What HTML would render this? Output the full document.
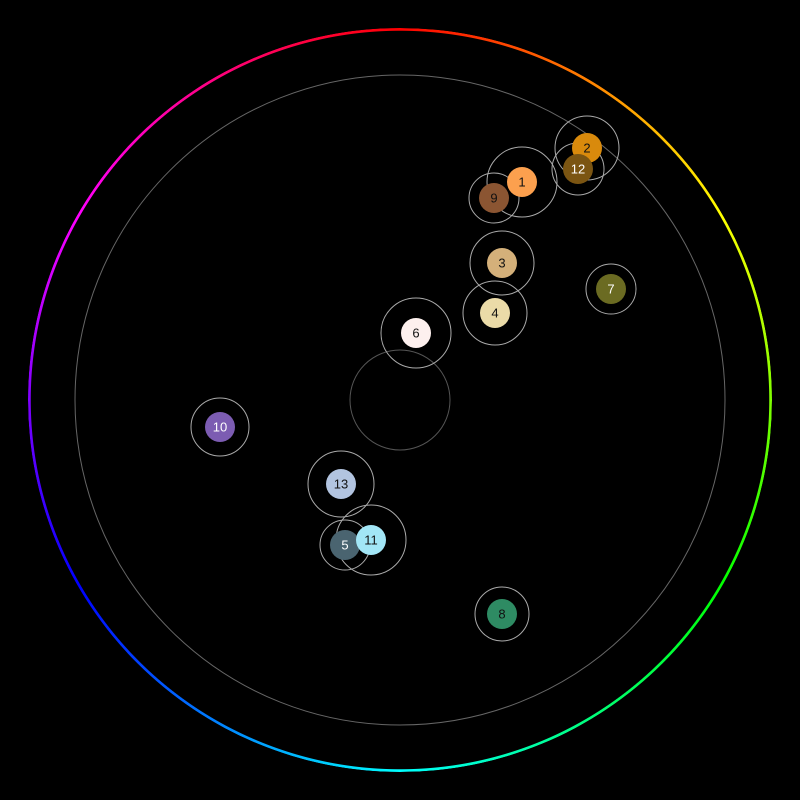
<!DOCTYPE html>
<html><head><style>
html,body{margin:0;padding:0;background:#000;width:800px;height:800px;overflow:hidden}
.ring{position:absolute;left:28px;top:28px;width:744px;height:744px;border-radius:50%;
background:conic-gradient(hsl(0,100%,50%),hsl(60,100%,50%),hsl(120,100%,50%),hsl(180,100%,50%),hsl(240,100%,50%),hsl(300,100%,50%),hsl(360,100%,50%));
-webkit-mask:radial-gradient(circle,transparent 369px,#000 369.5px,#000 372px,transparent 372.5px);
mask:radial-gradient(circle,transparent 369px,#000 369.5px,#000 372px,transparent 372.5px)}
svg{position:absolute;left:0;top:0}
text{font-family:"Liberation Sans",sans-serif;font-size:13px;text-anchor:middle;dominant-baseline:central}
</style></head><body>
<div class="ring"></div>
<svg width="800" height="800">
<circle cx="400" cy="400" r="325" fill="none" stroke="#666" stroke-width="1"/>
<circle cx="400" cy="400" r="50" fill="none" stroke="#555" stroke-width="1"/>
<g fill="none" stroke="#aaa" stroke-width="1">
<circle cx="522" cy="182" r="35"/><circle cx="587" cy="148" r="32"/><circle cx="578" cy="169" r="26"/>
<circle cx="494" cy="198" r="25"/><circle cx="502" cy="263" r="32"/><circle cx="495" cy="313" r="32"/>
<circle cx="416" cy="333" r="35"/><circle cx="611" cy="289" r="25"/><circle cx="220" cy="427" r="29"/>
<circle cx="341" cy="484" r="33"/><circle cx="345" cy="545" r="25"/><circle cx="371" cy="540" r="35"/>
<circle cx="502" cy="614" r="27"/>
</g>
<circle cx="522" cy="182" r="15" fill="#fca04e"/><text x="522" y="182" fill="#111">1</text>
<circle cx="587" cy="148" r="15" fill="#d98a0c"/><text x="587" y="148" fill="#111">2</text>
<circle cx="578" cy="169" r="15" fill="#7b5512"/><text x="578" y="169" fill="#fff">12</text>
<circle cx="494" cy="198" r="15" fill="#8b5532"/><text x="494" y="198" fill="#111">9</text>
<circle cx="502" cy="263" r="15" fill="#d4b07a"/><text x="502" y="263" fill="#111">3</text>
<circle cx="495" cy="313" r="15" fill="#ebdba8"/><text x="495" y="313" fill="#111">4</text>
<circle cx="416" cy="333" r="15" fill="#fdf0ee"/><text x="416" y="333" fill="#111">6</text>
<circle cx="611" cy="289" r="15" fill="#6b6b22"/><text x="611" y="289" fill="#fff">7</text>
<circle cx="220" cy="427" r="15" fill="#7c5cb2"/><text x="220" y="427" fill="#fff">10</text>
<circle cx="341" cy="484" r="15" fill="#b2c4e0"/><text x="341" y="484" fill="#111">13</text>
<circle cx="345" cy="545" r="15" fill="#4a6470"/><text x="345" y="545" fill="#fff">5</text>
<circle cx="371" cy="540" r="15" fill="#a2e6f6"/><text x="371" y="540" fill="#111">11</text>
<circle cx="502" cy="614" r="15" fill="#2e8b63"/><text x="502" y="614" fill="#111">8</text>
</svg>
</body></html>
